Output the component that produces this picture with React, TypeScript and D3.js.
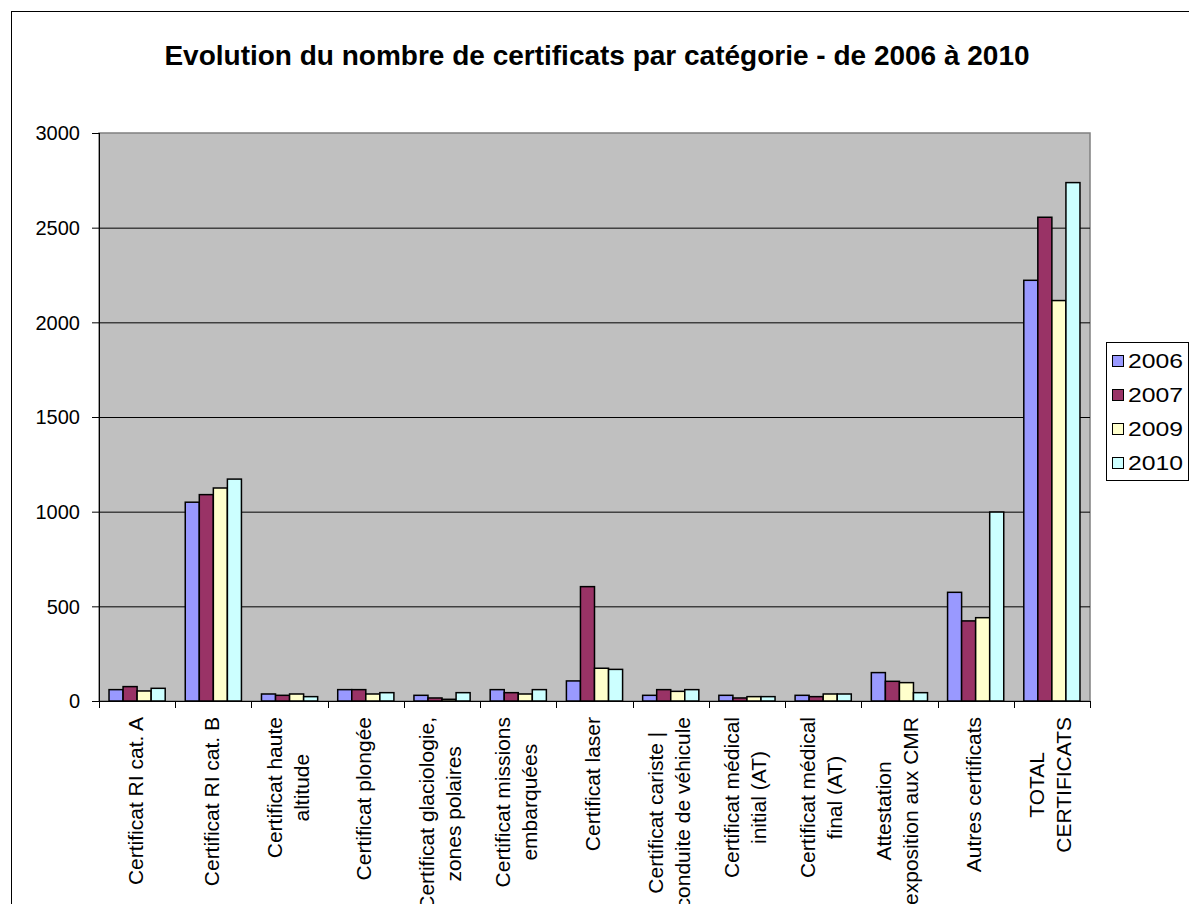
import React, { useEffect, useRef } from 'react'
import * as d3 from 'd3'

const categories = [
  ['Certificat RI cat. A'],
  ['Certificat RI cat. B'],
  ['Certificat haute', 'altitude'],
  ['Certificat plongée'],
  ['Certificat glaciologie,', 'zones polaires'],
  ['Certificat missions', 'embarquées'],
  ['Certificat laser'],
  ['Certificat cariste |', 'conduite de véhicule'],
  ['Certificat médical', 'initial (AT)'],
  ['Certificat médical', 'final (AT)'],
  ['Attestation', 'exposition aux CMR'],
  ['Autres certificats'],
  ['TOTAL', 'CERTIFICATS'],
]

const years = ['2006', '2007', '2009', '2010']
const values2006 = [60, 1050, 37, 60, 30, 60, 106, 30, 30, 30, 150, 574, 2222]
const values2007 = [76, 1090, 30, 60, 16, 44, 604, 60, 16, 23, 104, 423, 2555]
const values2009 = [53, 1125, 37, 37, 9, 37, 173, 51, 23, 37, 97, 440, 2115]
const values2010 = [67, 1172, 23, 44, 44, 60, 167, 60, 23, 37, 44, 998, 2738]
const series = [values2006, values2007, values2009, values2010]
const colors = ['#9999FF', '#993366', '#FFFFCC', '#CCFFFF']
const yTicks = [0, 500, 1000, 1500, 2000, 2500, 3000]

const FONT = '"Liberation Sans", Arial, sans-serif'

const App = () => {
  const svgRef = useRef<SVGSVGElement>(null)

  useEffect(() => {
    const width = 1189
    const height = 904
    const plot = { left: 99, right: 1090, top: 133, bottom: 701 }

    const svg = d3.select(svgRef.current)
    svg.selectAll('*').remove()
    svg.attr('width', width).attr('height', height)

    // cadre du graphique
    svg
      .append('rect')
      .attr('x', 11.5)
      .attr('y', 11.5)
      .attr('width', width + 20)
      .attr('height', height + 20)
      .attr('fill', 'white')
      .attr('stroke', 'black')

    svg
      .append('text')
      .attr('x', 597)
      .attr('y', 65)
      .attr('text-anchor', 'middle')
      .style('font-family', FONT)
      .style('font-size', '28px')
      .style('font-weight', 'bold')
      .text('Evolution du nombre de certificats par catégorie - de 2006 à 2010')

    const x0 = d3
      .scaleBand<number>()
      .domain(d3.range(categories.length))
      .range([plot.left, plot.right])
      .paddingInner(0.263)
      .paddingOuter(0.1315)
    const x1 = d3.scaleBand<number>().domain(d3.range(years.length)).range([0, x0.bandwidth()])
    const y = d3.scaleLinear().domain([0, 3000]).range([plot.bottom, plot.top])

    svg
      .append('rect')
      .attr('x', plot.left)
      .attr('y', plot.top)
      .attr('width', plot.right - plot.left)
      .attr('height', plot.bottom - plot.top)
      .attr('fill', '#C0C0C0')
      .attr('stroke', '#808080')
      .attr('stroke-width', 1.5)

    // lignes de quadrillage
    svg
      .append('g')
      .selectAll('line')
      .data(yTicks.filter((t) => t > 0 && t < 3000))
      .enter()
      .append('line')
      .attr('x1', plot.left)
      .attr('x2', plot.right)
      .attr('y1', (d) => y(d) + 0.5)
      .attr('y2', (d) => y(d) + 0.5)
      .attr('stroke', 'black')

    // barres
    const groups = svg
      .append('g')
      .selectAll('g')
      .data(categories.map((_, i) => i))
      .enter()
      .append('g')
      .attr('transform', (i) => `translate(${x0(i)},0)`)

    groups
      .selectAll('rect')
      .data((i) => series.map((s, k) => ({ k, v: s[i] })))
      .enter()
      .append('rect')
      .attr('x', (d) => x1(d.k)!)
      .attr('y', (d) => y(d.v))
      .attr('width', x1.bandwidth())
      .attr('height', (d) => y(0) - y(d.v))
      .attr('fill', (d) => colors[d.k])
      .attr('stroke', 'black')
      .attr('stroke-width', 1.5)

    // axe Y
    const yAxis = svg.append('g')
    yAxis
      .append('line')
      .attr('x1', plot.left + 0.5)
      .attr('x2', plot.left + 0.5)
      .attr('y1', plot.top)
      .attr('y2', plot.bottom)
      .attr('stroke', 'black')
    yTicks.forEach((t) => {
      yAxis
        .append('line')
        .attr('x1', plot.left - 7)
        .attr('x2', plot.left)
        .attr('y1', y(t) + 0.5)
        .attr('y2', y(t) + 0.5)
        .attr('stroke', 'black')
      yAxis
        .append('text')
        .attr('x', 80)
        .attr('y', y(t))
        .attr('dy', '0.36em')
        .attr('text-anchor', 'end')
        .style('font-family', FONT)
        .style('font-size', '20px')
        .text(t)
    })

    // axe X
    const xAxis = svg.append('g')
    xAxis
      .append('line')
      .attr('x1', plot.left)
      .attr('x2', plot.right)
      .attr('y1', plot.bottom + 0.5)
      .attr('y2', plot.bottom + 0.5)
      .attr('stroke', 'black')
    const step = x0.step()
    d3.range(categories.length + 1).forEach((i) => {
      const xx = Math.round(plot.left + i * step) + 0.5
      xAxis
        .append('line')
        .attr('x1', xx)
        .attr('x2', xx)
        .attr('y1', plot.bottom)
        .attr('y2', plot.bottom + 7)
        .attr('stroke', 'black')
    })

    categories.forEach((lines, i) => {
      const cx = x0(i)! + x0.bandwidth() / 2 - 2
      const g = xAxis.append('g')
      const texts = lines.map((line, j) =>
        g
          .append('text')
          .attr('text-anchor', 'middle')
          .attr('dominant-baseline', 'central')
          .attr('y', (j - (lines.length - 1) / 2) * 27)
          .style('font-family', FONT)
          .style('font-size', '21px')
          .text(line)
      )
      const maxW = d3.max(texts, (t) => (t.node() as SVGTextElement).getComputedTextLength()) || 0
      g.attr('transform', `translate(${cx},${717 + maxW / 2}) rotate(-90)`)
    })

    // légende
    const legend = svg.append('g')
    legend
      .append('rect')
      .attr('x', 1106.5)
      .attr('y', 342.5)
      .attr('width', 82)
      .attr('height', 138)
      .attr('fill', 'white')
      .attr('stroke', 'black')
    years.forEach((yr, k) => {
      const cy = 361 + k * 34
      legend
        .append('rect')
        .attr('x', 1112.5)
        .attr('y', cy - 5.5)
        .attr('width', 11)
        .attr('height', 11)
        .attr('fill', colors[k])
        .attr('stroke', 'black')
      legend
        .append('text')
        .attr('x', 1128)
        .attr('y', cy)
        .attr('dy', '0.36em')
        .attr('textLength', 55)
        .attr('lengthAdjust', 'spacingAndGlyphs')
        .style('font-family', FONT)
        .style('font-size', '20px')
        .text(yr)
    })
  }, [])

  return (
    <div style={{ position: 'absolute', left: 0, top: 0 }}>
      <svg ref={svgRef} style={{ display: 'block' }}></svg>
    </div>
  )
}

export default App
